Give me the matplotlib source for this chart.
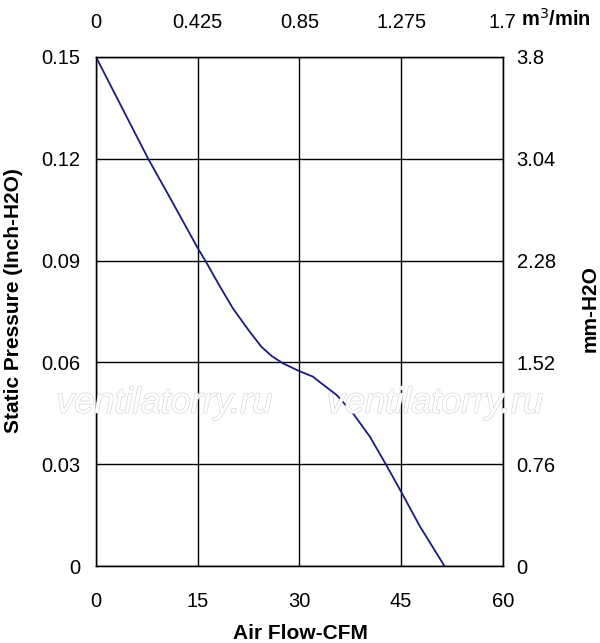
import matplotlib.pyplot as plt
import matplotlib.patheffects as pe

plt.rcParams['font.family'] = ['Liberation Sans', 'DejaVu Sans']

# curve
cfm = [0, 3, 7.7, 11, 15, 16.2, 18.3, 20.2, 22.5, 24.4, 25.9, 27.6, 29.8, 32.0, 33.0, 35.5,
       37.9, 40.4, 42.8, 45.0, 47.8, 51.4]
pressure = [0.15, 0.1383, 0.12, 0.1082, 0.0937, 0.0897, 0.0823, 0.0759, 0.0695, 0.0646, 0.0619,
            0.0597, 0.0576, 0.0558, 0.0542, 0.0504, 0.0450, 0.0381, 0.0298, 0.0219, 0.0116, 0.0]

x_ticks = [0, 15, 30, 45, 60]
y_ticks = [0, 0.03, 0.06, 0.09, 0.12, 0.15]
y_labels = ['0', '0.03', '0.06', '0.09', '0.12', '0.15']
top_ticks = [0, 0.425, 0.85, 1.275, 1.7]
top_labels = ['0', '0.425', '0.85', '1.275', '1.7']
right_ticks = [0, 0.76, 1.52, 2.28, 3.04, 3.8]
right_labels = ['0', '0.76', '1.52', '2.28', '3.04', '3.8']

fig = plt.figure(figsize=(6, 6.43), dpi=100)
ax = fig.add_axes([0.16, 0.1197, 0.678, 0.7917])

ax.plot(cfm, pressure, color='#1a1a80', lw=1.3, zorder=3)
ax.set_xlim(0, 60)
ax.set_ylim(0, 0.15)
ax.set_xticks(x_ticks)
ax.set_yticks(y_ticks)
ax.set_yticklabels(y_labels)
ax.grid(True, color='black', lw=1)
ax.tick_params(length=0, labelsize=14.5)
ax.tick_params(axis='x', pad=19)
ax.tick_params(axis='y', pad=11.5)
for s in ax.spines.values():
    s.set_linewidth(1)

axr = ax.twinx()
axr.set_ylim(0, 3.8)
axr.set_yticks(right_ticks)
axr.set_yticklabels(right_labels)
axr.tick_params(length=0, labelsize=14.5, pad=10)

axt = ax.twiny()
axt.set_xlim(0, 1.7)
axt.set_xticks(top_ticks)
axt.set_xticklabels(top_labels)
axt.tick_params(length=0, labelsize=14.5, pad=18)

fig.text(0.5, 0.015, 'Air Flow-CFM', fontsize=15, fontweight='bold', ha='center', va='center')
fig.text(0.023, 0.532, 'Static Pressure (Inch-H2O)', fontsize=15, fontweight='bold',
         rotation=90, ha='center', va='center')
fig.text(0.983, 0.52, 'mm-H2O', fontsize=15, fontweight='bold', rotation=90, ha='center', va='center')
fig.text(0.868, 0.970, 'm$^3$/min', fontsize=14.5, fontweight='bold', ha='left', va='center')

# watermark
for xw in [0.274, 0.725]:
    fig.text(xw, 0.373, 'ventilatorry.ru', fontsize=26, style='italic', color='white',
             ha='center', va='center', zorder=0,
             path_effects=[pe.Stroke(linewidth=1, foreground='#d8d8d8'), pe.Normal()])

fig.savefig('out.png', dpi=100)
